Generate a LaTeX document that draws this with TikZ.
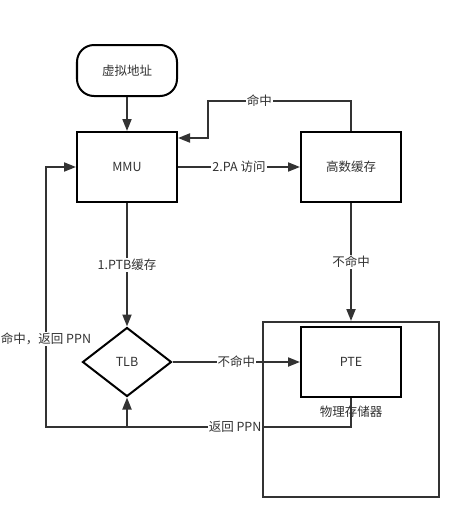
\documentclass[tikz,border=0pt]{standalone}
\usepackage{fontspec}
\setmainfont{Noto Sans CJK SC}
\usepackage{tikz}
\usetikzlibrary{matrix,arrows.meta,shapes.geometric}
\definecolor{linegray}{HTML}{333333}

\begin{document}
\begin{tikzpicture}[x=1pt, y=1pt, color=linegray, line width=2pt,
  >={Triangle[length=12pt,width=9pt]},
  every node/.style={font=\fontsize{12.5}{15}\selectfont},
  box/.style={draw, line width=2pt, minimum width=100pt, minimum height=70pt},
  start/.style={draw, line width=2pt, rounded corners=17pt, minimum width=100pt, minimum height=51pt},
  test/.style={draw, diamond, line width=2pt, inner sep=0pt, minimum width=89pt, minimum height=69pt},
  lbl/.style={fill=white, inner sep=1pt}]
  \useasboundingbox (0,0) rectangle (470,-527);
  \matrix (m) [matrix of nodes, row sep=34pt, column sep=122pt, nodes={anchor=center}] at (239,-221)
  {
|[start]| 虚拟地址 & \\
|[box]| MMU & |[box]| 高数缓存 \\[89pt]
|[test]| TLB & |[box]| PTE \\ };
  \node (mem) [draw, minimum width=176pt, minimum height=175pt, anchor=north] at ([yshift=5pt]m-3-2.north) {};
  \node (memlabel) [anchor=north, inner sep=0pt] at ([yshift=-7pt]m-3-2.south) {物理存储器};
  \coordinate (hittop) at ([xshift=30pt,yshift=30pt]m-2-1.north east);
  \coordinate (retL) at ([xshift=-30pt]m-2-1.west);
  \coordinate (retB) at ([yshift=-29pt]m-3-2.south);
  \path[->]
  (m-1-1) edge (m-2-1)
  (m-2-1) edge node [lbl] {1.PTB缓存} (m-3-1)
  (m-2-1) edge node [lbl] {2.PA 访问} (m-2-2)
  (m-3-1) edge node [lbl] {不命中} (m-3-2)
  (m-2-2) edge node [lbl] {不命中} (mem);
  \draw[->] (m-2-2.north) |- node [lbl, pos=0.82] {命中} (hittop) |- ([yshift=-7pt]m-2-1.north east);
  \draw[->] (m-3-2.south) |- node [lbl, pos=0.69] {返回 PPN} (retL |- retB)
    -- node [lbl, pos=0.34] {命中，返回 PPN} (retL) -- (m-2-1.west);
  \draw[->] (m-3-1 |- retB) -- (m-3-1.south);
\end{tikzpicture}
\end{document}
